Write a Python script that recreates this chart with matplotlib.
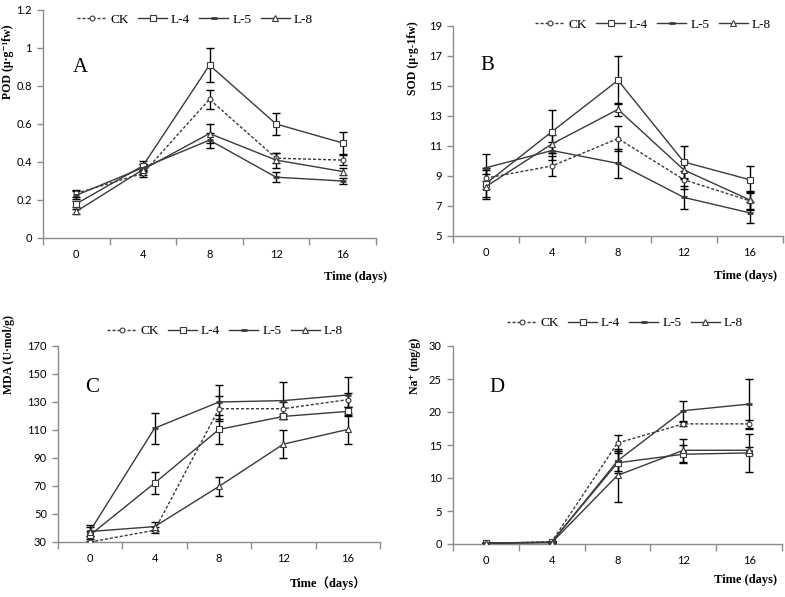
import matplotlib
matplotlib.use("Agg")
import matplotlib.pyplot as plt
import numpy as np

days = ["0", "4", "8", "12", "16"]
series_names = ["CK", "L-4", "L-5", "L-8"]

pod_ck = [0.235, 0.34, 0.73, 0.42, 0.41]
pod_l4 = [0.18, 0.38, 0.91, 0.60, 0.50]
pod_l5 = [0.225, 0.37, 0.515, 0.32, 0.30]
pod_l8 = [0.14, 0.36, 0.55, 0.41, 0.35]
pod_ck_err = [0.02, 0.02, 0.05, 0.025, 0.025]
pod_l4_err = [0.015, 0.025, 0.09, 0.06, 0.06]
pod_l5_err = [0.02, 0.02, 0.04, 0.025, 0.015]
pod_l8_err = [0.015, 0.03, 0.05, 0.04, 0.02]

sod_ck = [8.86, 9.67, 11.5, 8.75, 7.34]
sod_l4 = [8.5, 11.96, 15.38, 9.93, 8.75]
sod_l5 = [9.55, 10.7, 9.84, 7.57, 6.54]
sod_l8 = [8.3, 11.14, 13.44, 9.4, 7.4]
sod_ck_err = [0.7, 0.65, 0.85, 0.6, 0.6]
sod_l4_err = [0.9, 1.45, 1.6, 1.05, 0.9]
sod_l5_err = [0.9, 0.6, 0.97, 0.77, 0.7]
sod_l8_err = [0.8, 0.6, 0.45, 0.6, 0.6]

mda_ck = [30, 38.4, 125.2, 125.2, 131.7]
mda_l4 = [35, 72.1, 110.4, 119.7, 123.3]
mda_l5 = [38, 111.3, 130, 131, 135]
mda_l8 = [37.5, 41, 69.7, 99.9, 110.4]
mda_ck_err = [1, 2, 9, 5, 5]
mda_l4_err = [3, 7.7, 10.5, 2, 3]
mda_l5_err = [4, 11, 12, 13, 13]
mda_l8_err = [3, 3, 6.5, 10, 10.5]

na_ck = [0.1, 0.35, 15.3, 18.2, 18.2]
na_l4 = [0.1, 0.3, 12.3, 13.6, 13.8]
na_l5 = [0.15, 0.25, 12.6, 20.2, 21.2]
na_l8 = [0.1, 0.2, 10.4, 14.2, 14.2]
na_ck_err = [0.1, 0.1, 1.2, 0.3, 0.6]
na_l4_err = [0.1, 0.1, 1.5, 1.4, 2.9]
na_l5_err = [0.1, 0.1, 1.5, 1.5, 3.8]
na_l8_err = [0.1, 0.1, 4.0, 1.7, 0.5]

pod_ticks = [0, 0.2, 0.4, 0.6, 0.8, 1.0, 1.2]
pod_ticklabels = ["0", "0.2", "0.4", "0.6", "0.8", "1", "1.2"]
sod_ticks = [5, 7, 9, 11, 13, 15, 17, 19]
mda_ticks = [30, 50, 70, 90, 110, 130, 150, 170]
na_ticks = [0, 5, 10, 15, 20, 25, 30]

W, H = 785, 597
fig = plt.figure(figsize=(W / 100, H / 100), dpi=100)
fig.patch.set_facecolor("white")

SERIF = ["Liberation Serif", "DejaVu Serif"]
SERIF_CJK = ["Liberation Serif", "Noto Sans CJK SC"]
TICKFONT = "Lato"
LINEC = "#3a3a3a"
AXC = "#8c8c8c"

styles = [
    dict(ls=(0, (2.2, 1.4)), marker="o", mfc="white", ms=3.5, mew=0.8),
    dict(ls="-", marker="s", mfc="white", ms=4, mew=0.8),
    dict(ls="-", marker="_", mfc=LINEC, ms=5, mew=2.0),
    dict(ls="-", marker="^", mfc="white", ms=4, mew=0.8),
]


def px_rect(l, r, t, b):
    return [l / W, 1 - b / H, (r - l) / W, (b - t) / H]


def make_panel(rect, series, errs, ticks, ticklabels, ylim, letter, letter_xy,
               ylabel, ylabel_xy, xlabel, xlabel_xy, leg_xy, xfam):
    ax = fig.add_axes(px_rect(*rect))
    x = np.arange(len(days))
    handles = []
    for vals, err, st, name in zip(series, errs, styles, series_names):
        ax.errorbar(x, vals, yerr=err, fmt="none", ecolor="black",
                    elinewidth=1.0, capsize=3, capthick=1.0, zorder=2)
        h, = ax.plot(x, vals, color=LINEC, lw=1.0, linestyle=st["ls"],
                     marker=st["marker"], mfc=st["mfc"], mec=LINEC,
                     ms=st["ms"], mew=st["mew"], zorder=3, label=name)
        handles.append(h)
    ax.set_xlim(-0.5, len(days) - 0.5)
    ax.set_ylim(*ylim)
    for s in ["top", "right"]:
        ax.spines[s].set_visible(False)
    for s in ["left", "bottom"]:
        ax.spines[s].set_color(AXC)
        ax.spines[s].set_linewidth(1.0)
    ax.set_xticks(np.arange(-0.5, len(days), 1.0))
    ax.set_xticklabels([])
    ax.set_xticks(x, minor=True)
    ax.set_xticklabels(days, minor=True, fontsize=8, family=TICKFONT)
    ax.tick_params(axis="x", which="major", direction="out", length=5,
                   color=AXC, width=1.0)
    ax.tick_params(axis="x", which="minor", length=0, pad=8)
    ax.set_yticks(ticks)
    ax.set_yticklabels(ticklabels, fontsize=8, family=TICKFONT)
    ax.tick_params(axis="y", direction="out", length=4, color=AXC, width=1.0,
                   pad=4)
    ax.text(letter_xy[0] / W, 1 - letter_xy[1] / H, letter,
            transform=fig.transFigure, fontsize=15, family=SERIF,
            ha="center", va="center")
    fig.text(ylabel_xy[0] / W, 1 - ylabel_xy[1] / H, ylabel, rotation=90,
             fontsize=8.5, fontweight="bold", family=SERIF,
             ha="center", va="center")
    fig.text(xlabel_xy[0] / W, 1 - xlabel_xy[1] / H, xlabel,
             fontsize=9, fontweight="bold", family=xfam,
             ha="center", va="center")
    ax.legend(handles=handles, loc="center", ncol=4, frameon=False,
              bbox_to_anchor=(leg_xy[0] / W, 1 - leg_xy[1] / H),
              bbox_transform=fig.transFigure,
              prop={"family": SERIF, "size": 9.5},
              handlelength=2.2, handletextpad=0.3, columnspacing=0.7)
    return ax


make_panel((43, 376, 10, 238),
           [pod_ck, pod_l4, pod_l5, pod_l8],
           [pod_ck_err, pod_l4_err, pod_l5_err, pod_l8_err],
           pod_ticks, pod_ticklabels, (0, 1.2), "A", (80, 68),
           "POD (μ·g\u207b\u00b9fw)", (8, 62), "Time (days)", (356, 277),
           (195, 20), SERIF)

make_panel((453, 783, 26, 236),
           [sod_ck, sod_l4, sod_l5, sod_l8],
           [sod_ck_err, sod_l4_err, sod_l5_err, sod_l8_err],
           sod_ticks, [str(t) for t in sod_ticks], (5, 19), "B", (487, 65),
           "SOD (μ·g-1fw)", (413, 58), "Time (days)", (746, 276),
           (653, 25), SERIF)

make_panel((58, 380, 346, 542),
           [mda_ck, mda_l4, mda_l5, mda_l8],
           [mda_ck_err, mda_l4_err, mda_l5_err, mda_l8_err],
           mda_ticks, [str(t) for t in mda_ticks], (30, 170), "C", (92, 388),
           "MDA (U·mol/g)", (9, 355), "Time\uff08days\uff09", (328, 583),
           (225, 331), SERIF_CJK)

make_panel((453, 782, 346, 544),
           [na_ck, na_l4, na_l5, na_l8],
           [na_ck_err, na_l4_err, na_l5_err, na_l8_err],
           na_ticks, [str(t) for t in na_ticks], (0, 30), "D", (497, 387),
           "Na\u207a (mg/g)", (415, 366), "Time (days)", (746, 580),
           (625, 323), SERIF)

fig.savefig("out.png", dpi=100, facecolor="white")
